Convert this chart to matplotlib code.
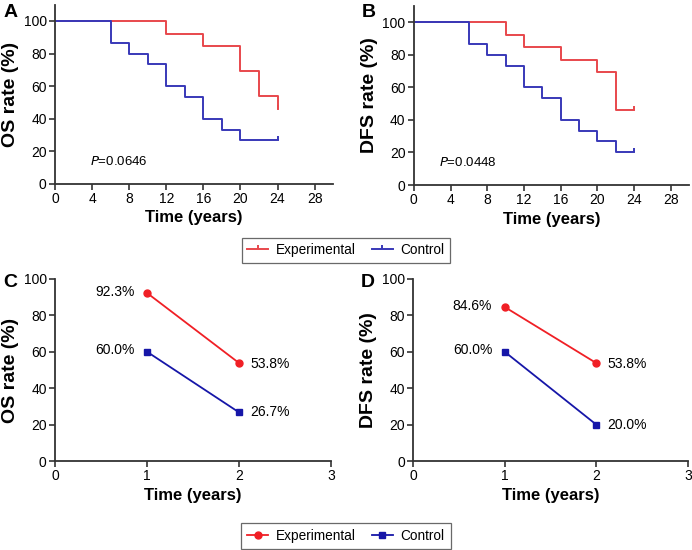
import matplotlib
matplotlib.use('Agg')
import matplotlib.pyplot as plt
from matplotlib.lines import Line2D

plt.rcParams['font.family'] = ['Liberation Sans', 'DejaVu Sans']

# Kaplan-Meier step data (time in years, survival in %)
os_exp_t = [0, 12, 16, 20, 22, 24]
os_exp_s = [100, 92.3, 84.6, 69.2, 53.8, 46.2]
os_ctl_t = [0, 6, 8, 10, 12, 14, 16, 18, 20, 24]
os_ctl_s = [100, 86.7, 80.0, 73.3, 60.0, 53.3, 40.0, 33.3, 26.7, 26.7]

dfs_exp_t = [0, 10, 12, 16, 20, 22, 24]
dfs_exp_s = [100, 92.3, 84.6, 76.9, 69.2, 46.2, 46.2]
dfs_ctl_t = [0, 6, 8, 10, 12, 14, 16, 18, 20, 22, 24]
dfs_ctl_s = [100, 86.7, 80.0, 73.3, 60.0, 53.3, 40.0, 33.3, 26.7, 20.0, 20.0]

p_os = "0.0646"
p_dfs = "0.0448"

# 1- and 2-year rates
years = [1, 2]
os_exp_rate = [92.3, 53.8]
os_ctl_rate = [60.0, 26.7]
dfs_exp_rate = [84.6, 53.8]
dfs_ctl_rate = [60.0, 20.0]

RED_KM = '#e8474c'
BLUE_KM = '#3838b8'
RED = '#f01f25'
BLUE = '#1616a8'
SPINE = '#333333'

fig = plt.figure(figsize=(6.92, 5.5), dpi=100)

def style(ax):
    for s in ['top', 'right']:
        ax.spines[s].set_visible(False)
    for s in ['left', 'bottom']:
        ax.spines[s].set_color(SPINE)
        ax.spines[s].set_linewidth(1.3)
    ax.tick_params(direction='out', length=4, width=1.2, color=SPINE,
                   labelsize=10, pad=2)

def km(ax, t, s, color):
    ax.step(t, s, where='post', color=color, lw=1.4)
    ax.plot([t[-1]], [s[-1]], marker=2, color=color, ms=3, mew=1.4)

def km_panel(rect, exp, ctl, ylabel, pval, px, letter):
    ax = fig.add_axes(rect)
    km(ax, exp[0], exp[1], RED_KM)
    km(ax, ctl[0], ctl[1], BLUE_KM)
    ax.set_xlim(0, 30)
    ax.set_ylim(0, 110)
    ax.set_xticks(range(0, 29, 4))
    ax.set_yticks(range(0, 101, 20))
    style(ax)
    ax.set_xlabel('Time (years)', fontsize=12, fontweight='bold', labelpad=3)
    ax.set_ylabel(ylabel, fontsize=14, fontweight='bold', labelpad=3)
    ax.text(px, 14, '$\\it{P}$=' + pval, fontsize=9.5, va='center', ha='left')
    fig.text(rect[0] - 0.075, 0.977, letter, fontsize=14, fontweight='bold',
             va='center', ha='left')
    return ax

def rate_panel(rect, exp, ctl, ylabel, letter):
    ax = fig.add_axes(rect)
    ax.plot(years, exp, color=RED, lw=1.3, marker='o', ms=5)
    ax.plot(years, ctl, color=BLUE, lw=1.3, marker='s', ms=5)
    for series, dy2 in ((exp, -1), (ctl, 0)):
        for x, v in zip(years, series):
            if x == 1:
                ax.annotate(f'{v:.1f}%', (x, v), xytext=(-9, 1), textcoords='offset points',
                            ha='right', va='center', fontsize=10)
            else:
                ax.annotate(f'{v:.1f}%', (x, v), xytext=(8, dy2), textcoords='offset points',
                            ha='left', va='center', fontsize=10)
    ax.set_xlim(0, 3)
    ax.set_ylim(0, 100)
    ax.set_xticks([0, 1, 2, 3])
    ax.set_yticks(range(0, 101, 20))
    style(ax)
    ax.set_xlabel('Time (years)', fontsize=12, fontweight='bold', labelpad=3)
    ax.set_ylabel(ylabel, fontsize=14, fontweight='bold', labelpad=3)
    fig.text(rect[0] - 0.075, 0.487, letter, fontsize=14, fontweight='bold',
             va='center', ha='left')
    return ax

km_panel([0.0795, 0.6655, 0.402, 0.326], (os_exp_t, os_exp_s), (os_ctl_t, os_ctl_s),
         'OS rate (%)', p_os, 3.8, 'A')
km_panel([0.598, 0.6636, 0.398, 0.326], (dfs_exp_t, dfs_exp_s), (dfs_ctl_t, dfs_ctl_s),
         'DFS rate (%)', p_dfs, 2.7, 'B')
rate_panel([0.0795, 0.1618, 0.399, 0.331], os_exp_rate, os_ctl_rate, 'OS rate (%)', 'C')
rate_panel([0.597, 0.1618, 0.397, 0.331], dfs_exp_rate, dfs_ctl_rate, 'DFS rate (%)', 'D')

# legends
h1 = [Line2D([], [], color=RED_KM, lw=1.4, marker=2, ms=3, mew=1.4),
      Line2D([], [], color=BLUE_KM, lw=1.4, marker=2, ms=3, mew=1.4)]
leg1 = fig.legend(h1, ['Experimental', 'Control'], loc='center', bbox_to_anchor=(0.5, 0.545),
                  ncol=2, fontsize=9.8, fancybox=False, edgecolor='#444444',
                  handlelength=1.5, handletextpad=0.6, columnspacing=1.2, borderpad=0.4)
leg1.get_frame().set_linewidth(0.9)

h2 = [Line2D([], [], color=RED, lw=1.3, marker='o', ms=5),
      Line2D([], [], color=BLUE, lw=1.3, marker='s', ms=5)]
leg2 = fig.legend(h2, ['Experimental', 'Control'], loc='center', bbox_to_anchor=(0.5, 0.0255),
                  ncol=2, fontsize=9.8, fancybox=False, edgecolor='#444444',
                  handlelength=1.5, handletextpad=0.6, columnspacing=1.2, borderpad=0.45)
leg2.get_frame().set_linewidth(0.9)

fig.savefig('out.png', dpi=100)
